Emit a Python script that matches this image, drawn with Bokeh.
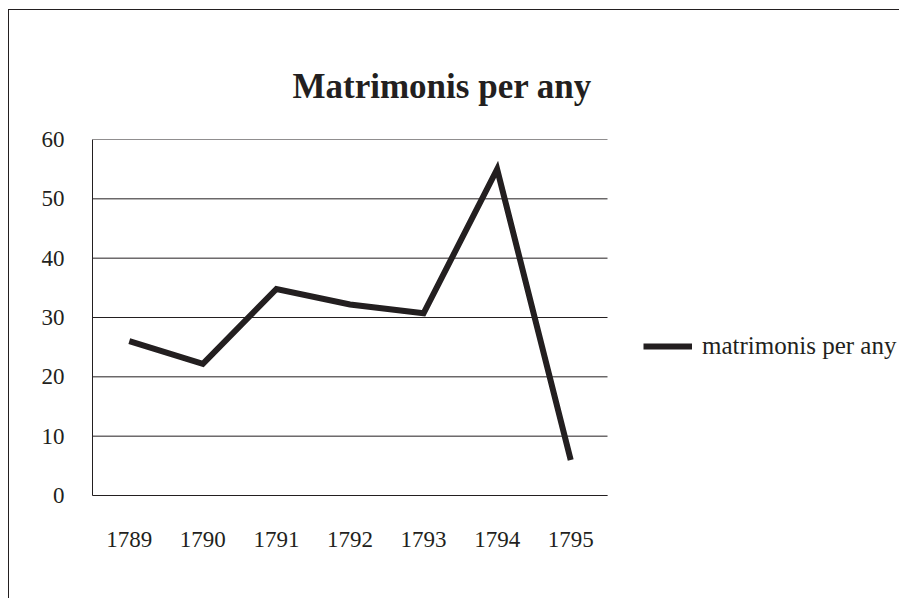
from bokeh.plotting import figure
from bokeh.models import Range1d, FixedTicker, Legend, LegendItem
from bokeh.embed import file_html
from bokeh.resources import INLINE

years = ["1789", "1790", "1791", "1792", "1793", "1794", "1795"]
marriages = [26.0, 22.2, 34.8, 32.2, 30.7, 55.0, 6.0]
y_ticks = [0, 10, 20, 30, 40, 50, 60]
title_text = "Matrimonis per any"
series_name = "matrimonis per any"

INK = "#231f20"
FONT = "Liberation Serif"

# layout (pixels)
W, H = 891, 589
LEFT, TOP, BOTTOM = 83, 129, 104
PLOT_W = 515                     # width used by the 7 year slots
FRAME_W = W - LEFT               # frame extends to the right edge (legend lives there)

n = len(years)
xs = [i + 0.5 for i in range(n)]
x_end = n * FRAME_W / PLOT_W

p = figure(width=W, height=H, output_backend="svg", toolbar_location=None,
           x_range=Range1d(0, x_end), y_range=Range1d(y_ticks[0], y_ticks[-1]),
           min_border_left=LEFT, min_border_right=0, min_border_top=TOP, min_border_bottom=BOTTOM,
           styles={"border-left": f"1px solid {INK}", "border-top": f"1px solid {INK}",
                   "margin-left": "8px", "margin-top": "9px"})
p.outline_line_color = None
p.background_fill_color = "white"
p.border_fill_color = "white"

p.title.text = title_text
p.title.align = "left"
p.title.offset = 200
p.title.standoff = 68
p.title.text_font = FONT
p.title.text_font_size = "35px"
p.title.text_font_style = "bold"
p.title.text_color = INK

# horizontal gridlines limited to the year slots
p.xgrid.visible = False
p.ygrid.visible = False
p.segment(x0=[0] * len(y_ticks), x1=[n] * len(y_ticks), y0=y_ticks, y1=y_ticks,
          line_color=INK, line_width=1)

r = p.line(x=xs, y=marriages, line_color=INK, line_width=6, line_join="miter")

p.yaxis.ticker = FixedTicker(ticks=y_ticks)
p.xaxis.ticker = FixedTicker(ticks=xs)
p.xaxis.major_label_overrides = {x: y for x, y in zip(xs, years)}
p.xaxis.bounds = (0, n)
for ax in (p.xaxis[0], p.yaxis[0]):
    ax.axis_line_color = INK
    ax.axis_line_width = 1
    ax.major_tick_line_color = None
    ax.minor_tick_line_color = None
    ax.major_label_text_font = FONT
    ax.major_label_text_font_size = "23px"
    ax.major_label_text_color = INK
p.yaxis.major_label_standoff = 22
p.xaxis.major_label_standoff = 30

legend = Legend(items=[LegendItem(label=series_name, renderers=[r])],
                location=(551, 135), border_line_color=None, background_fill_alpha=0,
                padding=0, margin=0, glyph_width=49, glyph_height=20, label_standoff=10,
                label_text_font=FONT, label_text_font_size="25px", label_text_color=INK)
p.add_layout(legend)

open("out.html", "w").write(file_html(p, INLINE))
